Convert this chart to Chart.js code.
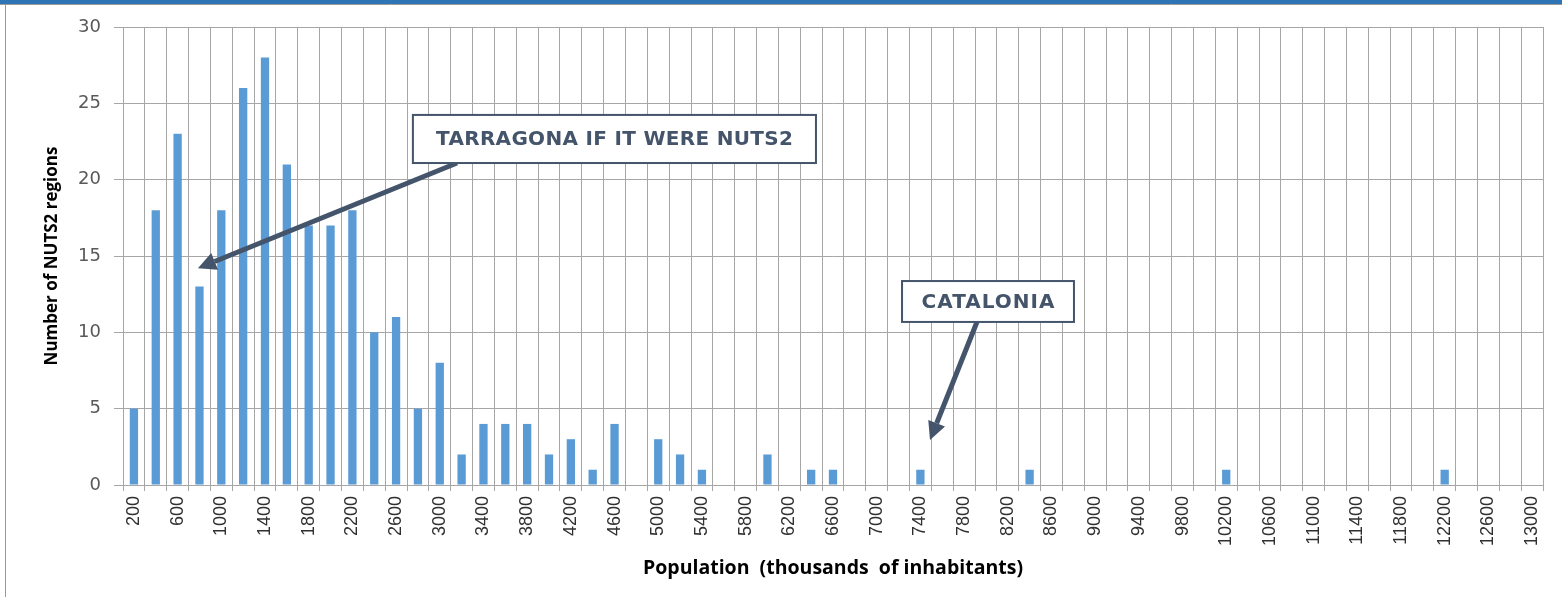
<!DOCTYPE html>
<html>
<head>
<meta charset="utf-8">
<title>NUTS2 regions by population</title>
<script src="https://cdn.jsdelivr.net/npm/chart.js@4.4.1/dist/chart.umd.min.js"></script>
<style>
  html, body { margin: 0; padding: 0; background: #fff; }
  #chart { display: block; }
</style>
</head>
<body>
<canvas id="chart" width="1562" height="597"></canvas>
<script>
// Population classes (thousands of inhabitants)
const populationClasses = [
    200, 400, 600, 800, 1000, 1200, 1400, 1600, 1800, 2000,
    2200, 2400, 2600, 2800, 3000, 3200, 3400, 3600, 3800, 4000,
    4200, 4400, 4600, 4800, 5000, 5200, 5400, 5600, 5800, 6000,
    6200, 6400, 6600, 6800, 7000, 7200, 7400, 7600, 7800, 8000,
    8200, 8400, 8600, 8800, 9000, 9200, 9400, 9600, 9800, 10000,
    10200, 10400, 10600, 10800, 11000, 11200, 11400, 11600, 11800, 12000,
    12200, 12400, 12600, 12800, 13000
];

// Number of NUTS2 regions in each class
const regionCounts = [
    5, 18, 23, 13, 18, 26, 28, 21, 17, 17,
    18, 10, 11, 5, 8, 2, 4, 4, 4, 2,
    3, 1, 4, 0, 3, 2, 1, 0, 0, 2,
    0, 1, 1, 0, 0, 0, 1, 0, 0, 0,
    0, 1, 0, 0, 0, 0, 0, 0, 0, 0,
    1, 0, 0, 0, 0, 0, 0, 0, 0, 0,
    1, 0, 0, 0, 0
];

const yTicks = [0, 5, 10, 15, 20, 25, 30];

// callouts, placed in data units (category index, y value)
const callouts = [
    { text: 'TARRAGONA IF IT WERE NUTS2', box: [12.77, 31.22, 24.24, 21.09], from: [14.79, 21.09], to: [2.93, 14.2], size: 20, spacing: 0.3 },
    { text: 'CATALONIA', box: [35.16, 43.03, 13.36, 10.68], from: [38.59, 10.68], to: [36.44, 2.95], size: 20, spacing: 1 }
];

const slate = '#44546a';
const gridGray = '#a6a6a6';

function drawArrow(ctx, x1, y1, x2, y2) {
    const ang = Math.atan2(y2 - y1, x2 - x1);
    const headLen = 18, headW = 9;
    const bx = x2 - Math.cos(ang) * headLen;
    const by = y2 - Math.sin(ang) * headLen;
    ctx.strokeStyle = slate;
    ctx.lineWidth = 5;
    ctx.beginPath();
    ctx.moveTo(x1, y1);
    ctx.lineTo(bx, by);
    ctx.stroke();
    ctx.fillStyle = slate;
    ctx.beginPath();
    ctx.moveTo(x2, y2);
    ctx.lineTo(bx + Math.sin(ang) * headW, by - Math.cos(ang) * headW);
    ctx.lineTo(bx - Math.sin(ang) * headW, by + Math.cos(ang) * headW);
    ctx.closePath();
    ctx.fill();
}

const framePlugin = {
    id: 'frame',
    beforeDraw(chart) {
        const ctx = chart.ctx;
        ctx.save();
        ctx.fillStyle = '#fff';
        ctx.fillRect(0, 0, chart.width, chart.height);
        ctx.fillStyle = '#2e75b6';
        ctx.fillRect(0, 0, chart.width, 4);
        ctx.strokeStyle = '#9a9a9a';
        ctx.lineWidth = 1;
        ctx.beginPath();
        ctx.moveTo(0, 4.5);
        ctx.lineTo(chart.width, 4.5);
        ctx.moveTo(5.5, 5);
        ctx.lineTo(5.5, chart.height);
        ctx.stroke();
        ctx.restore();
    }
};

const calloutPlugin = {
    id: 'callouts',
    afterDraw(chart) {
        const ctx = chart.ctx;
        const xs = chart.scales.x, ys = chart.scales.y;
        const px = i => xs.getPixelForValue(0) + i * (xs.getPixelForValue(1) - xs.getPixelForValue(0));
        const py = v => ys.getPixelForValue(v);
        ctx.save();
        callouts.forEach(c => {
            drawArrow(ctx, px(c.from[0]), py(c.from[1]), px(c.to[0]), py(c.to[1]));
            const l = px(c.box[0]), r = px(c.box[1]);
            const t = py(c.box[2]), b = py(c.box[3]);
            ctx.fillStyle = '#fff';
            ctx.fillRect(l, t, r - l, b - t);
            ctx.strokeStyle = slate;
            ctx.lineWidth = 2;
            ctx.strokeRect(l, t, r - l, b - t);
            ctx.fillStyle = slate;
            ctx.font = 'bold ' + c.size + 'px "DejaVu Sans"';
            ctx.letterSpacing = c.spacing + 'px';
            ctx.textAlign = 'center';
            ctx.textBaseline = 'middle';
            ctx.fillText(c.text, (l + r) / 2 + c.spacing / 2, (t + b) / 2 + 1);
        });
        ctx.restore();
    }
};

new Chart(document.getElementById('chart'), {
    type: 'bar',
    data: {
        labels: populationClasses.map(String),
        datasets: [{
            data: regionCounts,
            backgroundColor: '#5b9bd5',
            borderWidth: 0,
            categoryPercentage: 1,
            barPercentage: 0.38
        }]
    },
    options: {
        responsive: false,
        animation: false,
        layout: { padding: { top: 27, right: 19, left: 36, bottom: 14 } },
        plugins: {
            legend: { display: false },
            tooltip: { enabled: false }
        },
        scales: {
            x: {
                grid: { color: gridGray, tickLength: 6, offset: true },
                border: { color: gridGray },
                ticks: {
                    autoSkip: false,
                    minRotation: 90,
                    maxRotation: 90,
                    padding: 5,
                    color: '#303030',
                    font: { family: 'Liberation Sans', size: 18 },
                    callback: function(val, idx) {
                        return idx % 2 === 0 ? this.getLabelForValue(val) : '';
                    }
                },
                title: {
                    display: true,
                    text: 'Population  (thousands  of inhabitants)',
                    color: '#000',
                    font: { family: 'Open Sans', size: 19.5, weight: 'bold' },
                    padding: { top: 0, bottom: 3 }
                },
                afterFit(scale) { scale.height = 597 - 485 - 14; }
            },
            y: {
                min: 0,
                max: 30,
                grid: { color: gridGray, tickLength: 9 },
                border: { color: gridGray },
                afterBuildTicks(scale) { scale.ticks = yTicks.map(v => ({ value: v })); },
                ticks: {
                    padding: 13,
                    color: '#595959',
                    font: { family: 'DejaVu Sans', size: 18 }
                },
                title: {
                    display: true,
                    text: 'Number of NUTS2 regions',
                    color: '#000',
                    font: { family: 'Open Sans', size: 17, weight: 'bold' },
                    padding: { top: 6, bottom: 0 }
                },
                afterFit(scale) { scale.width = 123 - 36; }
            }
        }
    },
    plugins: [framePlugin, calloutPlugin]
});
</script>
</body>
</html>
